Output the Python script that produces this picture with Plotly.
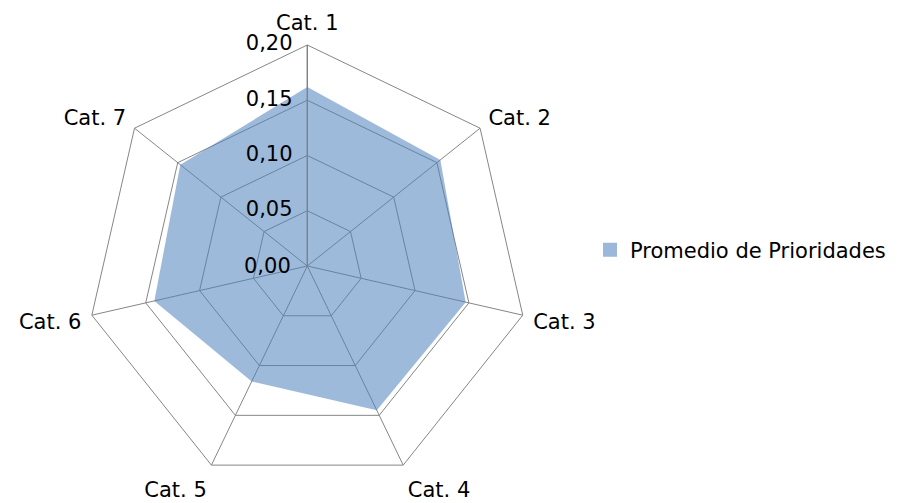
import plotly.graph_objects as go

categories = ["Cat. 1", "Cat. 2", "Cat. 3", "Cat. 4", "Cat. 5", "Cat. 6", "Cat. 7"]
promedio = [0.162, 0.154, 0.147, 0.145, 0.116, 0.142, 0.147]
series_name = "Promedio de Prioridades"
radial_ticks = [0.00, 0.05, 0.10, 0.15, 0.20]
radial_tick_text = [f"{v:.2f}".replace(".", ",") for v in radial_ticks]

FONT = "DejaVu Sans"
FILL = "rgba(79,129,189,0.55)"
GRID = "#868686"
R_MAX = 0.2

W, H = 918, 503
cx, cy_top, rad = 307.3, 266.0, 221.0
cy = H - cy_top

fig = go.Figure()

# filled area of the series (closed polygon)
fig.add_trace(go.Scatterpolar(
    r=promedio + promedio[:1],
    theta=categories + categories[:1],
    mode="none",
    fill="toself",
    fillcolor=FILL,
    showlegend=False,
    hoverinfo="skip",
))

# legend entry with a square swatch
fig.add_trace(go.Scatterpolar(
    r=[None],
    theta=[categories[0]],
    mode="markers",
    marker=dict(symbol="square", size=14, color="#9bb8db"),
    name=series_name,
    showlegend=True,
))

# radial scale labels left of the first spoke, centred on each ring
# (the origin label is added separately as an annotation at the polar centre)
fig.add_trace(go.Scatterpolar(
    r=radial_ticks[1:],
    theta=[categories[0]] * (len(radial_ticks) - 1),
    mode="markers+text",
    text=radial_tick_text[1:],
    textposition="middle left",
    textfont=dict(family=FONT, size=21, color="black"),
    marker=dict(size=22, color="rgba(0,0,0,0)"),
    showlegend=False,
    hoverinfo="skip",
    cliponaxis=False,
))

fig.add_annotation(
    xref="paper", yref="paper",
    x=cx / W, y=cy / H,
    xanchor="right", yanchor="middle",
    xshift=-14,
    text=radial_tick_text[0],
    showarrow=False,
    font=dict(family=FONT, size=21, color="black"),
)

fig.update_layout(
    width=W, height=H,
    margin=dict(l=0, r=0, t=0, b=0),
    paper_bgcolor="white",
    font=dict(family=FONT, size=21, color="black"),
    polar=dict(
        domain=dict(x=[(cx - rad) / W, (cx + rad) / W],
                    y=[max(0, (cy - rad) / H), (cy + rad) / H]),
        bgcolor="white",
        gridshape="linear",
        radialaxis=dict(
            range=[0, R_MAX],
            tickvals=radial_ticks,
            showticklabels=False,
            angle=90,
            ticks="",
            showline=True,
            linecolor="#808080",
            linewidth=1.2,
            gridcolor=GRID,
            gridwidth=1,
        ),
        angularaxis=dict(
            categoryorder="array",
            categoryarray=categories,
            direction="clockwise",
            rotation=90,
            showline=True,
            linecolor=GRID,
            linewidth=1,
            gridcolor=GRID,
            gridwidth=1,
            ticks="outside",
            ticklen=6,
            tickcolor="rgba(0,0,0,0)",
            tickfont=dict(family=FONT, size=21, color="black"),
        ),
    ),
    legend=dict(
        x=590 / W, xanchor="left",
        y=1 - 250 / H, yanchor="middle",
        font=dict(family=FONT, size=21, color="black"),
        bgcolor="rgba(0,0,0,0)",
        itemwidth=30,
    ),
)

fig.write_html("out.html")
